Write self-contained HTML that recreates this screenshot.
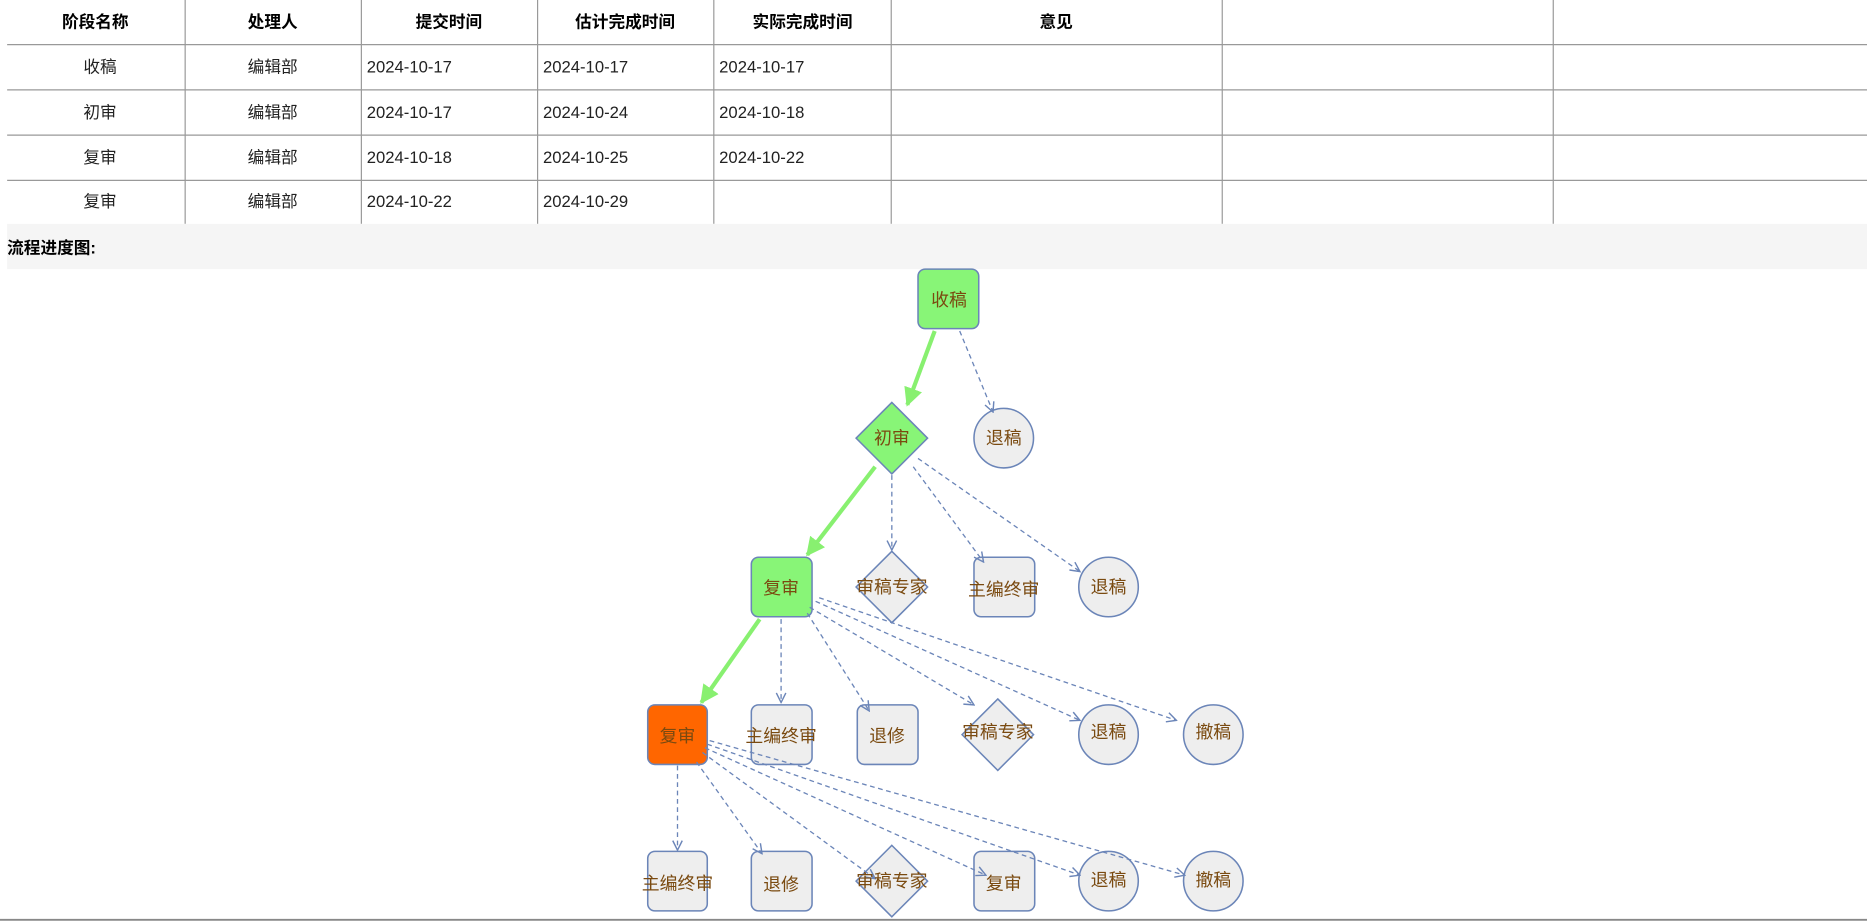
<!DOCTYPE html>
<html><head><meta charset="utf-8"><style>html,body{margin:0;padding:0;background:#fff;width:1867px;height:921px;overflow:hidden}svg{display:block}</style></head>
<body>
<svg width="1867" height="921" viewBox="0 0 1568 773.5" xmlns="http://www.w3.org/2000/svg" font-family="'Liberation Sans','Noto Sans CJK SC',sans-serif">
<defs>
<marker id="g" viewBox="0 0 10 10" refX="9" refY="5" markerWidth="4.5" markerHeight="4.5" orient="auto" markerUnits="strokeWidth"><path d="M0,0 L10,5 L0,10 z" fill="#88f070"/></marker>
<marker id="d" viewBox="0 0 10 10" refX="9" refY="5" markerWidth="10" markerHeight="10" orient="auto" markerUnits="userSpaceOnUse"><path d="M1,1 L9,5 L1,9" fill="none" stroke="#6b85b8" stroke-width="1.2"/></marker>
</defs>
<g stroke="#999" stroke-width="1">
<line x1="6" y1="37.5" x2="1568" y2="37.5"/><line x1="6" y1="75.5" x2="1568" y2="75.5"/><line x1="6" y1="113.5" x2="1568" y2="113.5"/><line x1="6" y1="151.5" x2="1568" y2="151.5"/>
<line x1="155.5" y1="0" x2="155.5" y2="188"/><line x1="303.5" y1="0" x2="303.5" y2="188"/><line x1="451.5" y1="0" x2="451.5" y2="188"/><line x1="599.5" y1="0" x2="599.5" y2="188"/><line x1="748.5" y1="0" x2="748.5" y2="188"/><line x1="1026.5" y1="0" x2="1026.5" y2="188"/><line x1="1304.5" y1="0" x2="1304.5" y2="188"/>
</g>
<g font-size="14" font-weight="bold" text-anchor="middle" fill="#000">
<text x="80" y="23">阶段名称</text><text x="229" y="23">处理人</text><text x="377" y="23">提交时间</text><text x="525" y="23">估计完成时间</text><text x="674" y="23">实际完成时间</text><text x="887" y="23">意见</text>
</g>
<g font-size="14" fill="#222">
<g text-anchor="middle"><text x="84" y="61">收稿</text><text x="229" y="61">编辑部</text><text x="84" y="99">初审</text><text x="229" y="99">编辑部</text><text x="84" y="137">复审</text><text x="229" y="137">编辑部</text><text x="84" y="174">复审</text><text x="229" y="174">编辑部</text></g>
<text x="308" y="61">2024-10-17</text><text x="456" y="61">2024-10-17</text><text x="604" y="61">2024-10-17</text>
<text x="308" y="99">2024-10-17</text><text x="456" y="99">2024-10-24</text><text x="604" y="99">2024-10-18</text>
<text x="308" y="137">2024-10-18</text><text x="456" y="137">2024-10-25</text><text x="604" y="137">2024-10-22</text>
<text x="308" y="174">2024-10-22</text><text x="456" y="174">2024-10-29</text>
</g>
<rect x="6" y="188" width="1562" height="38" fill="#f5f5f5"/>
<text x="6" y="213" font-size="14" font-weight="bold">流程进度图:</text>
<line x1="0" y1="772.5" x2="1568" y2="772.5" stroke="#888" stroke-width="1.5"/>
<g stroke="#6b85b8" stroke-width="1.3">
<rect x="771" y="226" width="51" height="50" rx="6" fill="#88f577"/>
<path d="M749,338 L779,368 L749,398 L719,368 Z" fill="#88f577"/>
<circle cx="843" cy="368" r="25" fill="#eeeeee"/>
<rect x="631" y="468" width="51" height="50" rx="6" fill="#88f577"/>
<path d="M749,463 L779,493 L749,523 L719,493 Z" fill="#eeeeee"/>
<rect x="818" y="468" width="51" height="50" rx="6" fill="#eeeeee"/>
<circle cx="931" cy="493" r="25" fill="#eeeeee"/>
<rect x="544" y="592" width="50" height="50" rx="6" fill="#ff6600"/>
<rect x="631" y="592" width="51" height="50" rx="6" fill="#eeeeee"/>
<rect x="720" y="592" width="51" height="50" rx="6" fill="#eeeeee"/>
<path d="M838,587 L868,617 L838,647 L808,617 Z" fill="#eeeeee"/>
<circle cx="931" cy="617" r="25" fill="#eeeeee"/>
<circle cx="1019" cy="617" r="25" fill="#eeeeee"/>
<rect x="544" y="715" width="50" height="50" rx="6" fill="#eeeeee"/>
<rect x="631" y="715" width="51" height="50" rx="6" fill="#eeeeee"/>
<path d="M749,710 L779,740 L749,770 L719,740 Z" fill="#eeeeee"/>
<rect x="818" y="715" width="51" height="50" rx="6" fill="#eeeeee"/>
<circle cx="931" cy="740" r="25" fill="#eeeeee"/>
<circle cx="1019" cy="740" r="25" fill="#eeeeee"/>
</g>
<g stroke="#88f070" stroke-width="3.5" marker-end="url(#g)" fill="none">
<line x1="785" y1="278" x2="762" y2="340"/><line x1="735" y1="392" x2="678" y2="466"/><line x1="638" y1="520" x2="589" y2="590"/>
</g>
<g stroke="#6b85b8" stroke-width="1.1" stroke-dasharray="4,3" marker-end="url(#d)" fill="none">
<line x1="806" y1="278" x2="834" y2="346"/>
<line x1="749" y1="399" x2="749" y2="462"/><line x1="767" y1="392" x2="826" y2="472"/><line x1="771" y1="385" x2="907" y2="480"/>
<line x1="656" y1="520" x2="656" y2="590"/><line x1="678" y1="515" x2="730" y2="597"/><line x1="680" y1="510" x2="818" y2="592"/><line x1="685" y1="505" x2="907" y2="605"/><line x1="688" y1="502" x2="988" y2="605"/>
<line x1="569" y1="643" x2="569" y2="714"/><line x1="585" y1="640" x2="640" y2="717"/><line x1="590" y1="632" x2="735" y2="738"/><line x1="592" y1="628" x2="828" y2="735"/><line x1="594" y1="625" x2="907" y2="735"/><line x1="596" y1="622" x2="995" y2="735"/>
</g>
<g font-size="15" fill="#7a4a10" text-anchor="middle">
<text x="797" y="257">收稿</text><text x="749" y="373">初审</text><text x="843" y="373">退稿</text>
<text x="656" y="499">复审</text><text x="749" y="498">审稿专家</text><text x="843" y="500">主编终审</text><text x="931" y="498">退稿</text>
<text x="569" y="623">复审</text><text x="656" y="623">主编终审</text><text x="745" y="623">退修</text><text x="838" y="620">审稿专家</text><text x="931" y="620">退稿</text><text x="1019" y="620">撤稿</text>
<text x="569" y="747">主编终审</text><text x="656" y="748">退修</text><text x="749" y="745">审稿专家</text><text x="843" y="747">复审</text><text x="931" y="744">退稿</text><text x="1019" y="744">撤稿</text>
</g>
</svg>
</body></html>
